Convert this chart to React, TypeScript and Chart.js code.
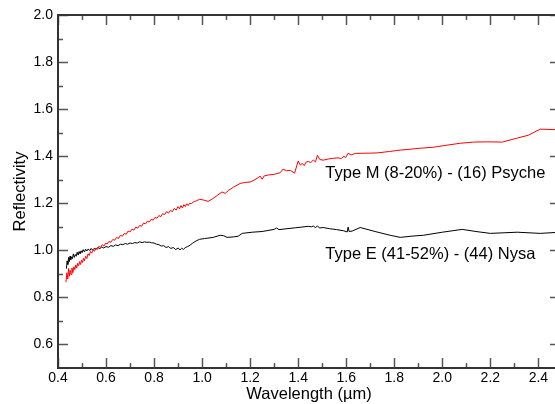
import React, { useEffect, useRef } from 'react';
import { Chart, registerables } from 'chart.js';

Chart.register(...registerables);

const FONT = "'Liberation Sans', Arial, Helvetica, sans-serif";

// Wavelength (µm), reflectivity
const psycheSpectrum: [number, number][] = [
  [0.433, 0.864], [0.437, 0.905], [0.441, 0.878], [0.444, 0.923], [0.448, 0.89], [0.451, 0.915],
  [0.455, 0.897], [0.458, 0.925], [0.462, 0.905], [0.466, 0.93], [0.47, 0.918], [0.474, 0.938],
  [0.478, 0.925], [0.482, 0.945], [0.486, 0.935], [0.49, 0.952], [0.494, 0.94], [0.498, 0.958],
  [0.502, 0.948], [0.506, 0.966], [0.51, 0.955], [0.515, 0.975], [0.52, 0.965], [0.525, 0.985],
  [0.53, 0.978], [0.535, 0.995], [0.54, 0.988], [0.546, 1.002], [0.552, 0.996], [0.558, 1.01],
  [0.564, 1.004], [0.57, 1.017], [0.577, 1.012], [0.584, 1.024], [0.591, 1.018], [0.598, 1.03],
  [0.605, 1.027], [0.612, 1.038], [0.62, 1.034], [0.628, 1.046], [0.636, 1.043], [0.644, 1.055],
  [0.652, 1.05], [0.66, 1.064], [0.668, 1.06], [0.676, 1.072], [0.684, 1.068], [0.692, 1.082],
  [0.7, 1.078], [0.708, 1.09], [0.716, 1.086], [0.724, 1.099], [0.732, 1.094], [0.74, 1.106],
  [0.748, 1.102], [0.756, 1.116], [0.764, 1.112], [0.772, 1.124], [0.78, 1.12], [0.788, 1.132],
  [0.796, 1.128], [0.804, 1.14], [0.812, 1.136], [0.82, 1.148], [0.828, 1.143], [0.836, 1.156],
  [0.844, 1.152], [0.852, 1.165], [0.86, 1.158], [0.868, 1.17], [0.876, 1.164], [0.884, 1.178],
  [0.892, 1.171], [0.9, 1.186], [0.906, 1.176], [0.912, 1.19], [0.918, 1.18], [0.924, 1.194],
  [0.93, 1.186], [0.936, 1.198], [0.942, 1.19], [0.948, 1.2], [0.955, 1.198], [0.963, 1.205],
  [0.975, 1.21], [0.99, 1.217], [1.005, 1.214], [1.025, 1.208], [1.045, 1.22], [1.065, 1.235],
  [1.083, 1.248], [1.096, 1.242], [1.11, 1.255], [1.13, 1.268], [1.158, 1.284], [1.18, 1.289],
  [1.2, 1.29], [1.22, 1.3], [1.242, 1.315], [1.25, 1.302], [1.258, 1.316], [1.275, 1.32],
  [1.3, 1.323], [1.325, 1.33], [1.337, 1.345], [1.352, 1.338], [1.367, 1.34], [1.385, 1.328],
  [1.4, 1.38], [1.409, 1.362], [1.417, 1.37], [1.425, 1.36], [1.433, 1.375], [1.442, 1.378],
  [1.452, 1.372], [1.463, 1.384], [1.472, 1.376], [1.48, 1.404], [1.49, 1.386], [1.504, 1.383],
  [1.525, 1.388], [1.546, 1.391], [1.566, 1.393], [1.58, 1.39], [1.59, 1.4], [1.598, 1.394],
  [1.608, 1.413], [1.62, 1.405], [1.638, 1.412], [1.7, 1.413], [1.729, 1.414], [1.78, 1.42],
  [1.825, 1.426], [1.87, 1.43], [1.908, 1.434], [1.963, 1.438], [2.02, 1.447], [2.075, 1.455],
  [2.13, 1.46], [2.19, 1.461], [2.25, 1.46], [2.312, 1.477], [2.358, 1.489], [2.408, 1.515],
  [2.44, 1.514], [2.49, 1.512],
];

const nysaSpectrum: [number, number][] = [
  [0.435, 0.922], [0.438, 0.955], [0.441, 0.94], [0.444, 0.97], [0.447, 0.952], [0.45, 0.975],
  [0.453, 0.96], [0.456, 0.972], [0.46, 0.965], [0.464, 0.985], [0.468, 0.97], [0.472, 0.982],
  [0.476, 0.975], [0.48, 0.992], [0.484, 0.98], [0.488, 0.995], [0.492, 0.985], [0.496, 0.998],
  [0.5, 0.99], [0.505, 1.003], [0.51, 0.993], [0.515, 1.005], [0.52, 0.997], [0.526, 1.006],
  [0.532, 0.999], [0.538, 1.008], [0.544, 1.001], [0.55, 1.008], [0.558, 1.004], [0.566, 1.012],
  [0.574, 1.007], [0.582, 1.014], [0.59, 1.01], [0.6, 1.016], [0.61, 1.013], [0.62, 1.02],
  [0.63, 1.017], [0.64, 1.023], [0.65, 1.02], [0.66, 1.026], [0.67, 1.024], [0.68, 1.029],
  [0.69, 1.026], [0.7, 1.031], [0.71, 1.029], [0.72, 1.033], [0.73, 1.031], [0.74, 1.036],
  [0.75, 1.033], [0.76, 1.036], [0.77, 1.034], [0.78, 1.035], [0.79, 1.032], [0.8, 1.031],
  [0.81, 1.026], [0.82, 1.024], [0.83, 1.018], [0.84, 1.02], [0.85, 1.012], [0.86, 1.016],
  [0.87, 1.008], [0.88, 1.012], [0.89, 1.003], [0.9, 1.01], [0.908, 1.002], [0.915, 1.009],
  [0.922, 1.004], [0.93, 1.012], [0.94, 1.016], [0.95, 1.022], [0.96, 1.03], [0.975, 1.04],
  [0.99, 1.047], [1.01, 1.05], [1.046, 1.055], [1.075, 1.064], [1.09, 1.062], [1.104, 1.055],
  [1.13, 1.057], [1.15, 1.06], [1.167, 1.072], [1.208, 1.077], [1.25, 1.08], [1.3, 1.089],
  [1.31, 1.095], [1.32, 1.088], [1.337, 1.09], [1.39, 1.096], [1.442, 1.102], [1.455, 1.1],
  [1.463, 1.103], [1.472, 1.097], [1.48, 1.103], [1.49, 1.095], [1.504, 1.097], [1.53, 1.092],
  [1.56, 1.088], [1.59, 1.083], [1.604, 1.078], [1.608, 1.099], [1.612, 1.08], [1.625, 1.082],
  [1.658, 1.097], [1.72, 1.08], [1.783, 1.064], [1.825, 1.055], [1.87, 1.06], [1.921, 1.064],
  [2.0, 1.077], [2.083, 1.089], [2.14, 1.08], [2.2, 1.072], [2.312, 1.077], [2.408, 1.072],
  [2.49, 1.077],
];

const xMajorTicks = [0.4, 0.6, 0.8, 1.0, 1.2, 1.4, 1.6, 1.8, 2.0, 2.2, 2.4];
const xMinorTicks = [0.5, 0.7, 0.9, 1.1, 1.3, 1.5, 1.7, 1.9, 2.1, 2.3];
const yMajorTicks = [0.6, 0.8, 1.0, 1.2, 1.4, 1.6, 1.8, 2.0];
const yMinorTicks = [0.7, 0.9, 1.1, 1.3, 1.5, 1.7, 1.9];

const seriesLabels = ['Type M (8-20%) - (16) Psyche', 'Type E (41-52%) - (44) Nysa'];
const labelAnchors: [number, number][] = [
  [1.513, 1.306],
  [1.513, 0.962],
];

const xTitle = 'Wavelength (µm)';
const yTitle = 'Reflectivity';

const framePlugin = {
  id: 'frameTicks',
  afterDraw(chart: any) {
    const { ctx, chartArea, scales } = chart;
    const { left, right, top, bottom } = chartArea;
    const xs = scales.x;
    const ys = scales.y;
    ctx.save();
    ctx.strokeStyle = '#555';
    ctx.lineWidth = 1.5;
    const drawX = (vals: number[], len: number) => {
      vals.forEach((v) => {
        const px = Math.round(xs.getPixelForValue(v)) + 0.5;
        ctx.beginPath();
        ctx.moveTo(px, bottom);
        ctx.lineTo(px, bottom - len);
        ctx.moveTo(px, top);
        ctx.lineTo(px, top + len);
        ctx.stroke();
      });
    };
    const drawY = (vals: number[], len: number) => {
      vals.forEach((v) => {
        const py = Math.round(ys.getPixelForValue(v)) + 0.5;
        ctx.beginPath();
        ctx.moveTo(left, py);
        ctx.lineTo(left + len, py);
        ctx.moveTo(right, py);
        ctx.lineTo(right - len, py);
        ctx.stroke();
      });
    };
    drawX(xMajorTicks, 10);
    drawX(xMinorTicks, 5);
    drawY(yMajorTicks, 10);
    drawY(yMinorTicks, 5);

    ctx.strokeStyle = '#333';
    ctx.lineWidth = 2;
    ctx.strokeRect(left, top, right - left, bottom - top);

    ctx.fillStyle = '#000';
    ctx.font = `16.5px ${FONT}`;
    ctx.textAlign = 'left';
    ctx.textBaseline = 'alphabetic';
    seriesLabels.forEach((t, i) => {
      const [lx, ly] = labelAnchors[i];
      ctx.fillText(t, xs.getPixelForValue(lx), ys.getPixelForValue(ly));
    });
    ctx.restore();
  },
};

export default function App() {
  const ref = useRef<HTMLCanvasElement | null>(null);

  useEffect(() => {
    if (!ref.current) return;
    const chart = new Chart(ref.current, {
      type: 'line',
      data: {
        datasets: [
          {
            label: seriesLabels[0],
            data: psycheSpectrum.map(([x, y]) => ({ x, y })),
            borderColor: '#ff0000',
            borderWidth: 1,
            pointRadius: 0,
            tension: 0,
            fill: false,
          },
          {
            label: seriesLabels[1],
            data: nysaSpectrum.map(([x, y]) => ({ x, y })),
            borderColor: '#000000',
            borderWidth: 1,
            pointRadius: 0,
            tension: 0,
            fill: false,
          },
        ],
      },
      options: {
        responsive: false,
        devicePixelRatio: 1,
        animation: false,
        layout: { padding: { top: 15, right: 2, left: 0, bottom: 0 } },
        plugins: { legend: { display: false }, tooltip: { enabled: false } },
        scales: {
          x: {
            type: 'linear',
            min: 0.4,
            max: 2.49,
            grid: { display: false, drawTicks: false },
            border: { display: false },
            afterBuildTicks: (s: any) => {
              s.ticks = xMajorTicks.map((v) => ({ value: v }));
            },
            afterFit: (s: any) => {
              s.height = 36;
            },
            ticks: {
              autoSkip: false,
              maxRotation: 0,
              padding: 2,
              color: '#000',
              font: { family: FONT, size: 14 },
              callback: (v: any) => Number(v).toFixed(1),
            },
            title: {
              display: true,
              text: xTitle,
              color: '#000',
              font: { family: FONT, size: 16.5 },
              padding: { top: 0, bottom: 0 },
            },
          },
          y: {
            type: 'linear',
            min: 0.5,
            max: 2.0,
            grid: { display: false, drawTicks: false },
            border: { display: false },
            afterBuildTicks: (s: any) => {
              s.ticks = yMajorTicks.map((v) => ({ value: v }));
            },
            afterFit: (s: any) => {
              s.width = 58;
            },
            ticks: {
              autoSkip: false,
              padding: 5,
              color: '#000',
              font: { family: FONT, size: 14 },
              callback: (v: any) => Number(v).toFixed(1),
            },
            title: {
              display: true,
              text: yTitle,
              color: '#000',
              font: { family: FONT, size: 16.5 },
              padding: { top: 11, bottom: 0 },
            },
          },
        },
      },
      plugins: [framePlugin],
    });
    return () => chart.destroy();
  }, []);

  return (
    <div style={{ position: 'fixed', left: 0, top: 0, width: 555, height: 404, overflow: 'hidden', background: '#fff' }}>
      <canvas ref={ref} width={562} height={404} style={{ display: 'block' }} />
    </div>
  );
}
